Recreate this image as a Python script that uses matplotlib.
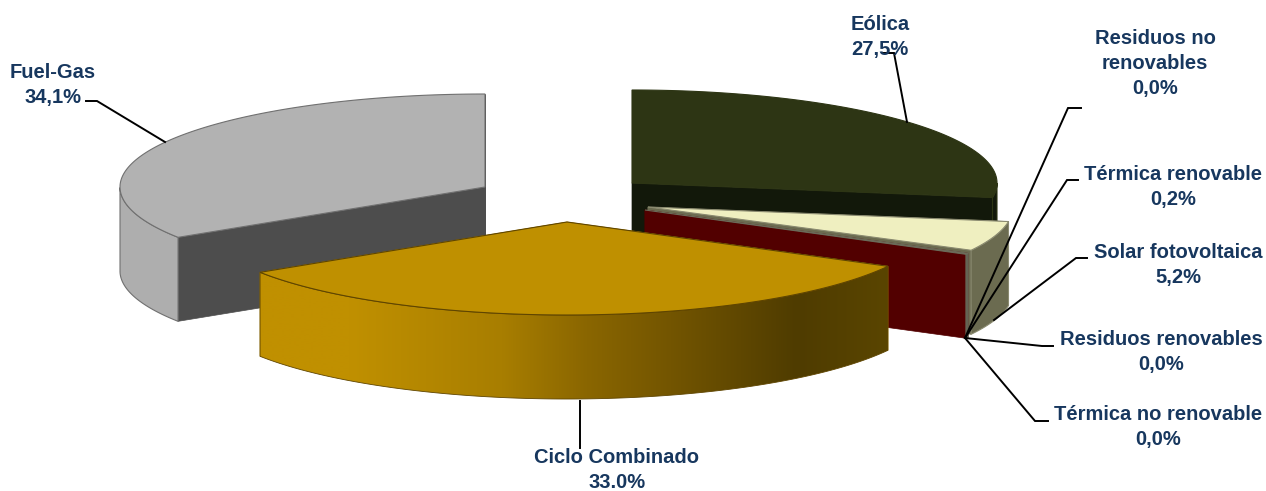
import numpy as np
import matplotlib
matplotlib.use("Agg")
import matplotlib.pyplot as plt
from matplotlib.patches import Polygon

plt.rcParams['font.family'] = ['Liberation Sans', 'DejaVu Sans']

# ---- data ----
slice_names = ["Eólica", "Solar fotovoltaica", "Térmica renovable", "Ciclo Combinado", "Fuel-Gas"]
slice_shares = [27.5, 5.2, 0.2, 33.0, 34.1]
label_texts = ["Fuel-Gas\n34,1%", "Eólica\n27,5%", "Residuos no\nrenovables\n0,0%",
               "Térmica renovable\n0,2%", "Solar fotovoltaica\n5,2%",
               "Residuos renovables\n0,0%", "Térmica no renovable\n0,0%",
               "Ciclo Combinado\n33.0%"]

# ---- styling / layout ----
W, H = 1266, 491
RX, RY, DEPTH = 365, 93, 84
TEXT = "#17375e"
style = {
    "Eólica": dict(apex=(632, 183), top="#2d3514", cut="#12180a", wall="#12180a", edge="#2d3514"),
    "Solar fotovoltaica": dict(apex=(648, 207), top="#efefc0", cut="#6b6b50", wall="#6b6b50", edge="#8a8a70"),
    "Térmica renovable": dict(apex=(645, 210), top="#7d7d68", cut="#520000", wall="#5e5e50", edge="#6a6a58"),
    "Ciclo Combinado": dict(apex=(567, 222), top="#bf9000", cut="#bf9000", wall=None, edge="#5f4500"),
    "Fuel-Gas": dict(apex=(485, 187), top="#b2b2b2", cut="#4d4d4d", wall="#aeaeae", edge="#707070"),
}
draw_order = ["Fuel-Gas", "Eólica", "Solar fotovoltaica", "Térmica renovable", "Ciclo Combinado"]
label_pos = [(53, 85), (880, 37), (1155, 63), (1173, 187), (1178, 265), (1161, 352), (1158, 427), (617, 470)]
leaders = [[(86, 101), (97, 101), (165, 142)],
           [(883, 53), (894, 53), (907, 122)],
           [(1081, 108), (1068, 108), (965, 338)],
           [(1078, 180), (1067, 180), (965, 338)],
           [(1087, 258), (1076, 258), (994, 320)],
           [(1053, 346), (1042, 346), (965, 338)],
           [(1048, 421), (1035, 421), (965, 338)],
           [(580, 401), (580, 448)]]
grad_x = [260, 350, 502, 587, 671, 797, 888]
grad_rgb = ["#c09000", "#c09000", "#a87e00", "#8a6600", "#735500", "#4f3c00", "#5a4500"]

# ---- slice angles from data (clockwise from 12 o'clock) ----
edges = np.concatenate([[0], np.cumsum(slice_shares)]) / sum(slice_shares) * 2 * np.pi
spans = {n: (edges[i], edges[i + 1]) for i, n in enumerate(slice_names)}

def rim(apex, t):
    return np.column_stack([apex[0] + RX * np.sin(t), apex[1] - RY * np.cos(t)])

fig = plt.figure(figsize=(W / 100, H / 100), dpi=100)
ax = fig.add_axes([0, 0, 1, 1])
ax.set_xlim(0, W)
ax.set_ylim(H, 0)
ax.axis("off")

down = np.array([0, DEPTH])
for z, name in enumerate(draw_order):
    st = style[name]
    a0, a1 = spans[name]
    apex = np.array(st["apex"], float)
    t = np.linspace(a0, a1, 300)
    r = rim(apex, t)
    zb = 2 + z * 3
    # straight cut faces
    for end in (r[0], r[-1]):
        ax.add_patch(Polygon([apex, end, end + down, apex + down], closed=True,
                             fc=st["cut"], ec=st["cut"], lw=0.5, zorder=zb))
    # outer wall: only the front-facing part of the rim
    mask = np.cos(t) <= 0
    if mask.any():
        f = r[mask]
        poly = np.vstack([f, (f + down)[::-1]])
        if st["wall"] is None:
            xs = np.arange(f[:, 0].min(), f[:, 0].max() + 1)
            cols = np.array([matplotlib.colors.to_rgb(c) for c in grad_rgb])
            img = np.stack([np.interp(xs, grad_x, cols[:, k]) for k in range(3)], axis=-1)[None, :, :]
            im = ax.imshow(img, extent=(xs[0], xs[-1], poly[:, 1].max() + 1, poly[:, 1].min() - 1),
                           aspect="auto", zorder=zb + 1, interpolation="bilinear")
            im.set_clip_path(Polygon(poly, closed=True, transform=ax.transData))
            ax.add_patch(Polygon(poly, closed=True, fc="none", ec=st["edge"], lw=0.6, zorder=zb + 1.2))
        else:
            ax.add_patch(Polygon(poly, closed=True, fc=st["wall"], ec=st["edge"], lw=0.8, zorder=zb + 1))
    # top face
    ax.add_patch(Polygon(np.vstack([apex, r]), closed=True, fc=st["top"], ec=st["edge"],
                         lw=0.8, zorder=zb + 2))

ax.set_xlim(0, W)
ax.set_ylim(H, 0)

for pts in leaders:
    p = np.array(pts)
    ax.plot(p[:, 0], p[:, 1], color="black", lw=1.4, zorder=30, solid_joinstyle="miter")

for s, (x, y) in zip(label_texts, label_pos):
    ax.text(x, y, s, ha="center", va="center", color=TEXT, fontsize=14.5, fontweight="bold",
            linespacing=1.4, zorder=40)

fig.savefig("out.png", dpi=100, facecolor="white")
